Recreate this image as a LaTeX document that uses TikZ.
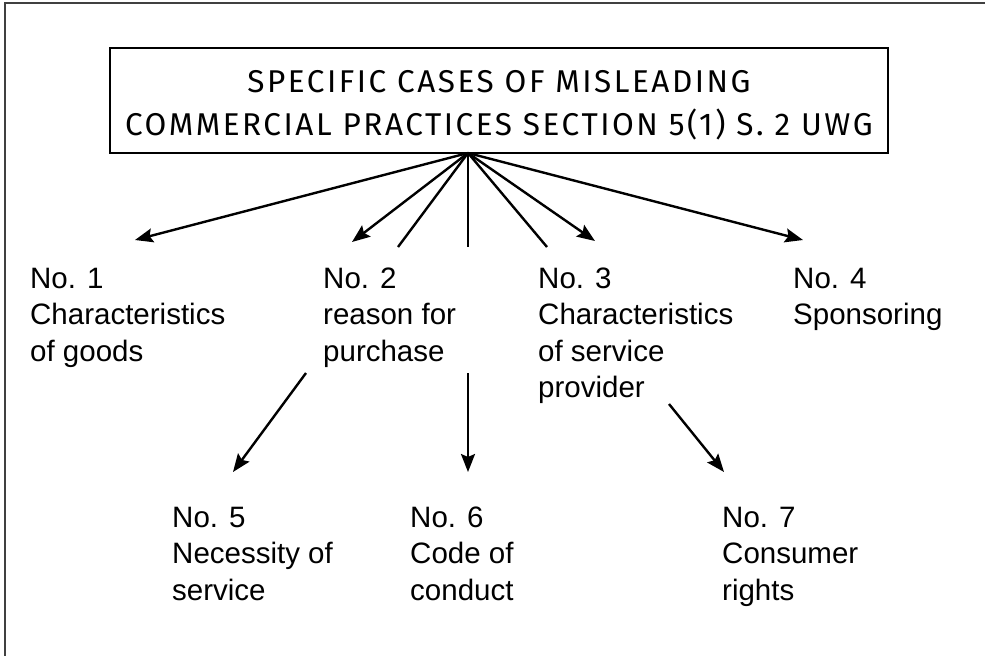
\documentclass[tikz,border=0pt]{standalone}
\usepackage{fontspec}
\setmainfont{Liberation Sans}
\newfontfamily\titlefont[LetterSpace=8.0]{Fira Sans}
\usetikzlibrary{arrows.meta}
\begin{document}
\begin{tikzpicture}[x=1pt,y=-1pt,
  frame/.style={draw=black!75,line width=1.4pt},
  titlebox/.style={draw,line width=2.8pt,minimum width=778pt,minimum height=105pt,
    inner sep=0pt},
  titletext/.style={inner sep=0pt,align=center,
    font=\titlefont\fontsize{31.5}{43}\selectfont},
  item/.style={anchor=base west,inner sep=0pt,align=left,
    font=\fontsize{29.5}{36.5}\selectfont},
  link/.style={line width=2.4pt},
  arr/.style={link,-{Stealth[length=18pt,width=14pt,inset=3pt]}}]
\useasboundingbox (0,0) rectangle (985,656);
% outer frame
\draw[frame] (985,3) -- (5,3) -- (5,656);
% heading
\node[titlebox] (head) at (499,100.5) {};
\node[titletext] (headtext) at (499,105)
  {SPECIFIC CASES OF MISLEADING\\COMMERCIAL PRACTICES SECTION 5(1) S. 2 UWG};
\coordinate (apex) at (468,153);
% cases (anchored at the baseline of their last line)
\node[item] (n1) at (30,361) {No. 1\\Characteristics\\of goods};
\node[item] (n2) at (323,361) {No. 2\\reason for\\purchase};
\node[item] (n3) at (538,397.5) {No. 3\\Characteristics\\of service\\provider};
\node[item] (n4) at (793,324.5) {No. 4\\Sponsoring};
\node[item] (n5) at (172,600) {No. 5\\Necessity of\\service};
\node[item] (n6) at (410,600) {No. 6\\Code of\\conduct};
\node[item] (n7) at (722,600) {No. 7\\Consumer\\rights};
% arrow ends and line breaks
\coordinate (t1) at (135,240);
\coordinate (t2) at (352,242);
\coordinate (t3) at (595,241);
\coordinate (t4) at (803,240);
\coordinate (a5) at (398,247);
\coordinate (b5) at (306,373);
\coordinate (t5) at (233,472);
\coordinate (a6) at (468,247);
\coordinate (b6) at (468,373);
\coordinate (t6) at (468,472);
\coordinate (a7) at (547,247);
\coordinate (b7) at (669,404);
\coordinate (t7) at (724,472);
% connectors
\draw[arr] (apex) -- (t1);
\draw[arr] (apex) -- (t2);
\draw[arr] (apex) -- (t3);
\draw[arr] (apex) -- (t4);
\draw[link] (apex) -- (a5);
\draw[link] (apex) -- (a6);
\draw[link] (apex) -- (a7);
\draw[arr] (b5) -- (t5);
\draw[arr] (b6) -- (t6);
\draw[arr] (b7) -- (t7);
\end{tikzpicture}
\end{document}
